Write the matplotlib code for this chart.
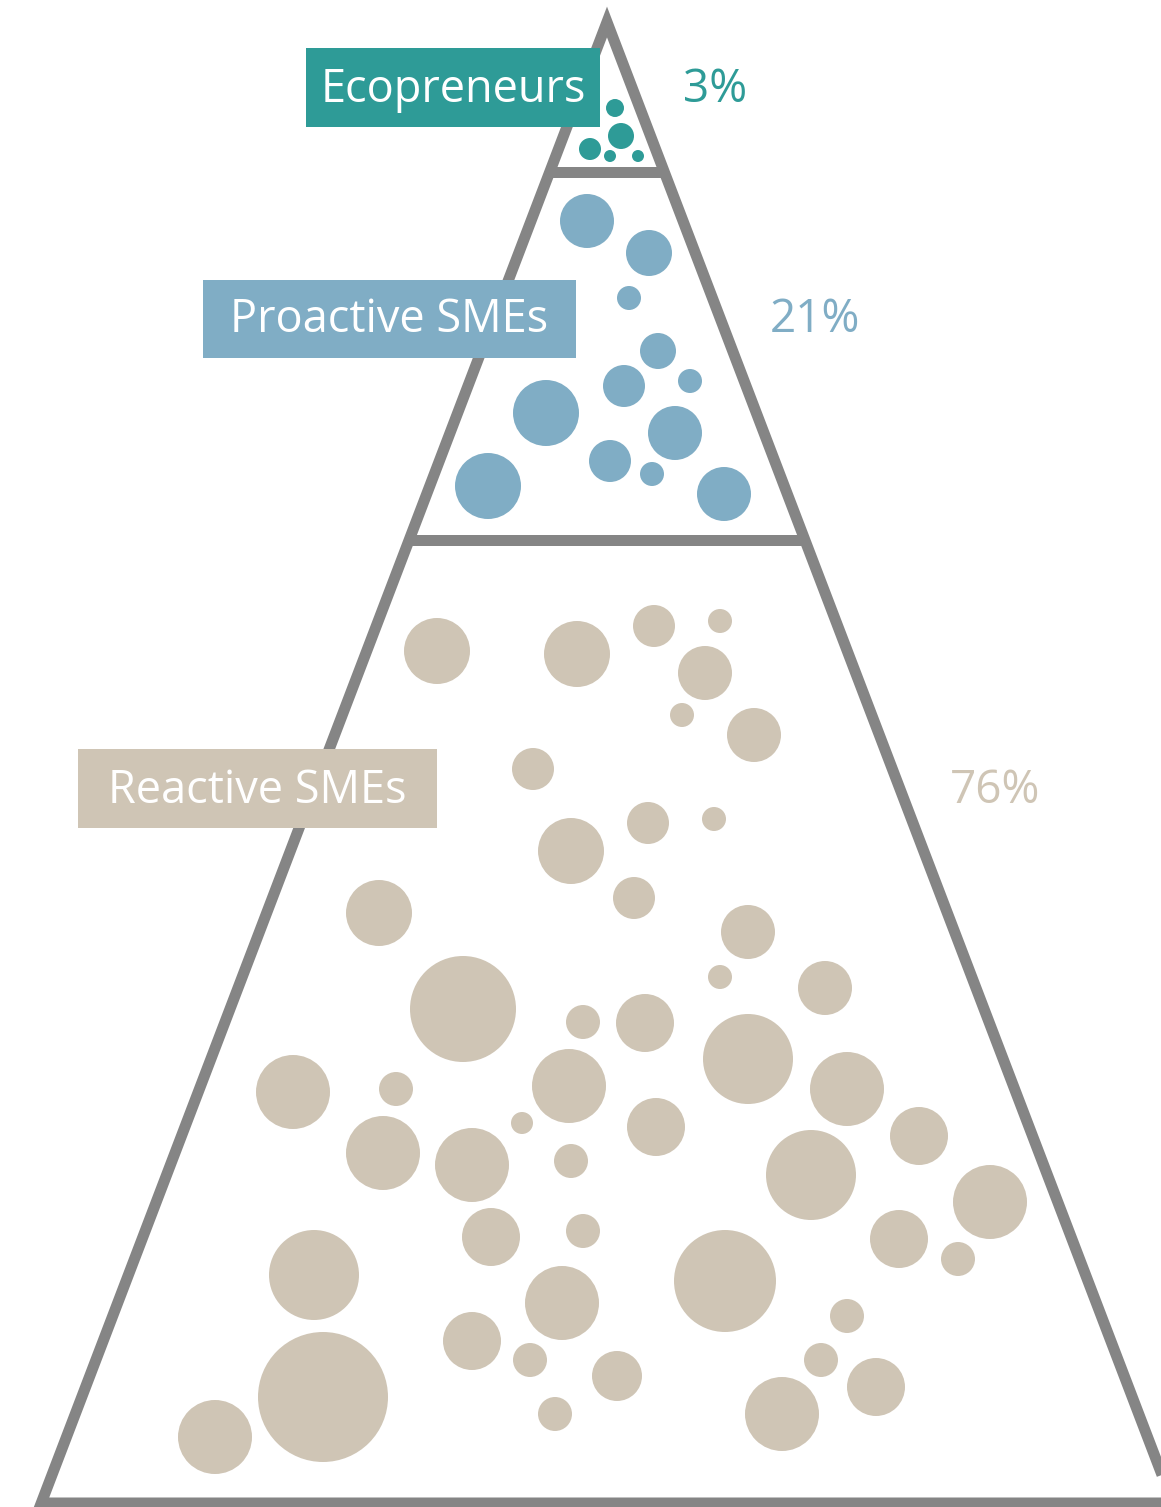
import matplotlib.pyplot as plt
from matplotlib.patches import Circle, Polygon, Rectangle

# --- datos ---
segmentos = ["Ecopreneurs", "Proactive SMEs", "Reactive SMEs"]
porcentajes = ["3%", "21%", "76%"]
colores = ["#2E9B97", "#80ADC5", "#CFC5B5"]

# burbujas (x, y, radio) en pixeles de la imagen
eco_x = [615, 621, 590, 610, 638]
eco_y = [108, 136, 149, 156, 156]
eco_r = [9, 13, 11, 6, 6]

pro_x = [587, 649, 629, 658, 624, 690, 546, 675, 610, 652, 488, 724]
pro_y = [221, 253, 298, 351, 386, 381, 413, 433, 461, 474, 486, 494]
pro_r = [27, 23, 12, 18, 21, 12, 33, 27, 21, 12, 33, 27]

rea_x = [437, 577, 533, 571, 654, 720, 705, 682, 754, 648, 714, 634,
         379, 463, 583, 293, 396, 569, 522, 383, 472, 571,
         748, 720, 825, 645, 748, 847, 656, 919, 811,
         491, 583, 314, 562, 472, 530, 323, 215, 555,
         990, 899, 958, 725, 847, 617, 821, 876, 782]
rea_y = [651, 654, 769, 851, 626, 621, 673, 715, 735, 823, 819, 898,
         913, 1009, 1022, 1092, 1089, 1086, 1123, 1153, 1165, 1161,
         932, 977, 988, 1023, 1059, 1089, 1127, 1136, 1175,
         1237, 1231, 1275, 1303, 1341, 1360, 1397, 1437, 1414,
         1202, 1239, 1259, 1281, 1316, 1376, 1360, 1387, 1414]
rea_r = [33, 33, 21, 33, 21, 12, 27, 12, 27, 21, 12, 21,
         33, 53, 17, 37, 17, 37, 11, 37, 37, 17,
         27, 12, 27, 29, 45, 37, 29, 29, 45,
         29, 17, 45, 37, 29, 17, 65, 37, 17,
         37, 29, 17, 51, 17, 25, 17, 29, 37]

# --- geometria ---
W, H = 1161, 1507
apice = (607, 22)
base_y = 1503
pendiente = 0.382
gris = "#858585"
lw = 11 * 72 / 100

def borde(y):
    d = pendiente * (y - apice[1])
    return apice[0] - d, apice[0] + d

fig = plt.figure(figsize=(W / 100, H / 100), dpi=100)
ax = fig.add_axes([0, 0, 1, 1])
ax.set_xlim(0, W)
ax.set_ylim(H, 0)
ax.axis('off')

izq, der = borde(base_y)
ax.add_patch(Polygon([(apice[0], base_y), (izq, base_y), apice, (der, base_y)],
                     closed=True, fill=False, edgecolor=gris, linewidth=lw,
                     joinstyle='miter', zorder=1))
for y in [172, 540]:
    a, b = borde(y)
    ax.plot([a, b], [y, y], color=gris, linewidth=lw, solid_capstyle='butt', zorder=1)

for xs, ys, rs, c in [(eco_x, eco_y, eco_r, colores[0]),
                      (pro_x, pro_y, pro_r, colores[1]),
                      (rea_x, rea_y, rea_r, colores[2])]:
    for x, y, r in zip(xs, ys, rs):
        ax.add_patch(Circle((x, y), r, color=c, linewidth=0, zorder=2))

# etiquetas
cajas = [(306, 48, 294, 79), (203, 280, 373, 78), (78, 749, 359, 79)]
base_txt = [102, 332, 803]
pct_x = [683, 770, 950]
for i in range(3):
    x0, y0, w, h = cajas[i]
    ax.add_patch(Rectangle((x0, y0), w, h, color=colores[i], linewidth=0, zorder=3))
    ax.text(x0 + w / 2, base_txt[i], segmentos[i], color='white', fontsize=32.5,
            family='Open Sans', ha='center', va='baseline', zorder=4)
    ax.text(pct_x[i], base_txt[i], porcentajes[i], color=colores[i], fontsize=33,
            family='Open Sans', ha='left', va='baseline', zorder=4)

fig.savefig('out.png', dpi=100, facecolor='white')
